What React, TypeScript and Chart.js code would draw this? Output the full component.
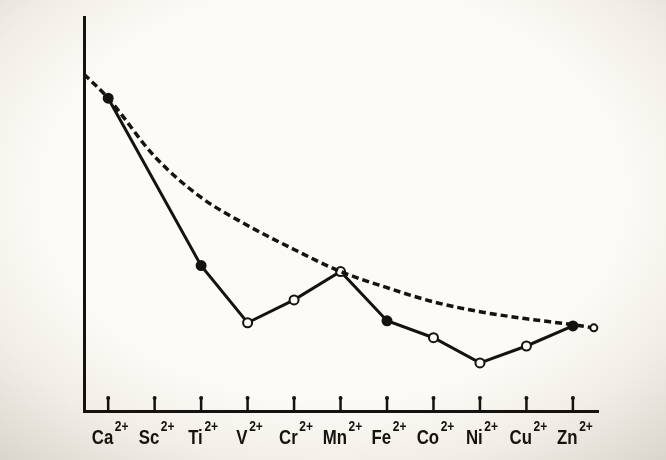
import React, { useEffect, useRef } from 'react';
import { Chart, registerables } from 'chart.js';

Chart.register(...registerables);

// Categories (divalent ions) along the x axis
const categories = ['Ca', 'Sc', 'Ti', 'V', 'Cr', 'Mn', 'Fe', 'Co', 'Ni', 'Cu', 'Zn'];
const chargeLabel = '2+';

const measuredValues: (number | null)[] = [79.4, null, 36.9, 22.4, 28.2, 35.4, 22.9, 18.6, 12.2, 16.5, 21.6];
const filledMarker = [true, false, true, false, false, false, true, false, false, false, true];

// Smooth dashed trend curve (x as category position)
const trendX = [-0.52, 0, 1, 2, 3, 4, 5, 6, 7, 8, 9, 10, 10.45];
const trendY = [85.5, 79.4, 64.6, 54.2, 47.1, 41.0, 35.4, 31.3, 27.7, 25.2, 23.4, 21.9, 21.1];

const INK = '#15120f';
const FONT_FAMILY = '"Liberation Sans", Arial, sans-serif';
const SQUEEZE = 0.8;

const axisDecor = {
  id: 'axisDecor',
  afterDraw(chart: any) {
    const { ctx, chartArea, scales } = chart;
    const xs = scales.x;
    ctx.save();
    ctx.strokeStyle = INK;
    ctx.fillStyle = INK;
    ctx.lineCap = 'round';
    // inward tick pins
    categories.forEach((_, i) => {
      const x = xs.getPixelForValue(i);
      ctx.lineWidth = 2.5;
      ctx.beginPath();
      ctx.moveTo(x, chartArea.bottom);
      ctx.lineTo(x, chartArea.bottom - 13);
      ctx.stroke();
      ctx.beginPath();
      ctx.arc(x, chartArea.bottom - 13, 2, 0, Math.PI * 2);
      ctx.fill();
    });
    // labels with superscript charge (horizontally condensed)
    const mainFont = `bold 21px ${FONT_FAMILY}`;
    const supFont = `bold 15px ${FONT_FAMILY}`;
    ctx.textBaseline = 'alphabetic';
    ctx.textAlign = 'left';
    categories.forEach((name, i) => {
      const x = xs.getPixelForValue(i);
      ctx.font = mainFont;
      const w1 = ctx.measureText(name).width;
      ctx.font = supFont;
      const w2 = ctx.measureText(chargeLabel).width;
      const total = (w1 + 2 + w2) * SQUEEZE;
      const start = x + 2 - total / 2;
      ctx.save();
      ctx.translate(start, 0);
      ctx.scale(SQUEEZE, 1);
      ctx.font = mainFont;
      ctx.fillText(name, 0, chartArea.bottom + 33);
      ctx.font = supFont;
      ctx.fillText(chargeLabel, w1 + 2, chartArea.bottom + 20);
      ctx.restore();
    });
    ctx.restore();
  },
};

export default function App() {
  const canvasRef = useRef<HTMLCanvasElement | null>(null);

  useEffect(() => {
    if (!canvasRef.current) return;
    const measuredPoints = categories
      .map((_, i) => ({ x: i, y: measuredValues[i] }))
      .filter((p) => p.y !== null) as { x: number; y: number }[];
    const measuredFill = categories
      .map((_, i) => (measuredValues[i] !== null ? (filledMarker[i] ? INK : '#fbf9f3') : null))
      .filter((c) => c !== null);
    const trendPoints = trendX.map((x, i) => ({ x, y: trendY[i] }));

    const chart = new Chart(canvasRef.current, {
      type: 'line',
      data: {
        datasets: [
          {
            label: 'trend',
            data: trendPoints,
            borderColor: INK,
            borderWidth: 3.5,
            borderDash: [7, 4],
            tension: 0.4,
            cubicInterpolationMode: 'monotone',
            pointRadius: trendPoints.map((_, i) => (i === trendPoints.length - 1 ? 3.5 : 0)),
            pointBackgroundColor: '#fbf9f3',
            pointBorderColor: INK,
            pointBorderWidth: 2,
            clip: false,
          },
          {
            label: 'measured',
            data: measuredPoints,
            borderColor: INK,
            borderWidth: 3,
            tension: 0,
            pointRadius: 4.5,
            pointBackgroundColor: measuredFill as string[],
            pointBorderColor: INK,
            pointBorderWidth: 2,
            clip: false,
          },
        ],
      },
      options: {
        responsive: false,
        animation: false,
        devicePixelRatio: 1,
        layout: { padding: { left: 76, right: 68, top: 17, bottom: 41 } },
        plugins: { legend: { display: false }, tooltip: { enabled: false } },
        scales: {
          x: {
            type: 'linear',
            min: -0.52,
            max: 10.54,
            grid: { display: false },
            ticks: { display: false },
            border: { display: true, color: INK, width: 3 },
          },
          y: {
            min: 0,
            max: 100,
            grid: { display: false },
            ticks: { display: false },
            border: { display: true, color: INK, width: 3 },
          },
        },
      },
      plugins: [axisDecor],
    });
    return () => chart.destroy();
  }, []);

  return (
    <div
      style={{
        position: 'absolute',
        left: 0,
        top: 0,
        width: 666,
        height: 460,
        background:
          'radial-gradient(ellipse 78% 80% at 50% 42%, #fdfbf6 55%, #f1eee7 75%, #d6d2ca 100%)',
      }}
    >
      <canvas ref={canvasRef} width={666} height={460} style={{ display: 'block' }} />
    </div>
  );
}
